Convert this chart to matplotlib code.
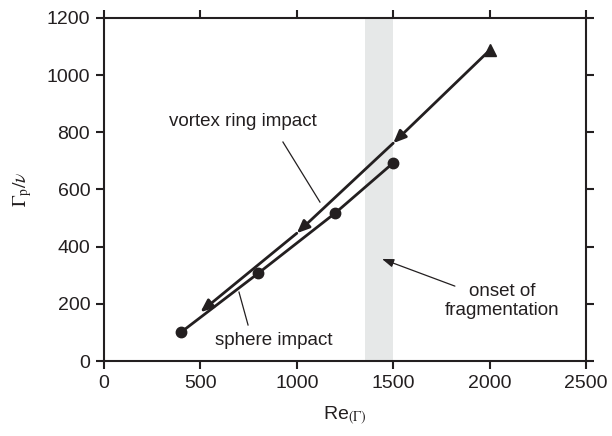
import numpy as np
import matplotlib
matplotlib.use("Agg")
import matplotlib.pyplot as plt

plt.rcParams['font.family'] = ['Liberation Sans', 'DejaVu Sans']
plt.rcParams['mathtext.fontset'] = 'stix'

# data
re_vortex = [2000, 1500, 1000, 500]
gam_vortex = [1087, 762, 447, 171]
re_sphere = [400, 800, 1200, 1500]
gam_sphere = [101, 307, 518, 693]
band = [1355, 1500]

fig = plt.figure(figsize=(6.12, 4.36), dpi=100)
ax = fig.add_axes([0.170, 0.172, 0.7875, 0.7868])

ax.axvspan(band[0], band[1], color='#e6e8e8', lw=0, zorder=0)

# sphere impact line with dots
ax.plot(re_sphere, gam_sphere, '-o', color='#231f20', lw=2.0, ms=7.5, zorder=3)

# vortex ring line: chain of arrows, end marker triangle
for i in range(1, len(re_vortex)):
    ax.annotate('', xy=(re_vortex[i], gam_vortex[i]),
                xytext=(re_vortex[i - 1], gam_vortex[i - 1]),
                arrowprops=dict(arrowstyle='-|>,head_length=0.75,head_width=0.32',
                                color='#231f20', lw=2.0, shrinkA=0, shrinkB=0),
                zorder=3)
ax.plot(re_vortex[0], gam_vortex[0], '^', color='#231f20', ms=9, zorder=4)

# annotations
ax.text(718, 838, 'vortex ring impact', ha='center', va='center', fontsize=13.5, color='#231f20')
ax.plot([928, 1120], [766, 556], color='#231f20', lw=0.9)
ax.text(882, 70, 'sphere impact', ha='center', va='center', fontsize=13.5, color='#231f20')
ax.plot([747, 700], [126, 241], color='#231f20', lw=0.9)
ax.text(2064, 210, 'onset of\nfragmentation', ha='center', va='center', fontsize=13.5,
        color='#231f20', linespacing=1.1)
ax.annotate('', xy=(1442, 357), xytext=(1820, 262),
            arrowprops=dict(arrowstyle='-|>,head_length=0.7,head_width=0.25',
                            color='#231f20', lw=0.9, shrinkA=0, shrinkB=0))

ax.set_xlim(0, 2500)
ax.set_ylim(0, 1200)
ax.set_xticks(np.arange(0, 2501, 500))
ax.set_yticks(np.arange(0, 1201, 200))
ax.tick_params(direction='out', length=6, width=1.5, labelsize=14, colors='#231f20',
               top=True, right=True, pad=4)
ax.tick_params(axis='x', labeltop=False)
ax.tick_params(axis='y', labelright=False)
for sp in ax.spines.values():
    sp.set_linewidth(1.5)
    sp.set_color('#231f20')

ax.set_xlabel(r'Re$_{(\Gamma)}$', fontsize=14, color='#231f20', labelpad=9)
ax.set_ylabel(r'$\Gamma_\mathrm{p}/\nu$', fontsize=14, color='#231f20', labelpad=9)

fig.savefig('out.png', dpi=100)
